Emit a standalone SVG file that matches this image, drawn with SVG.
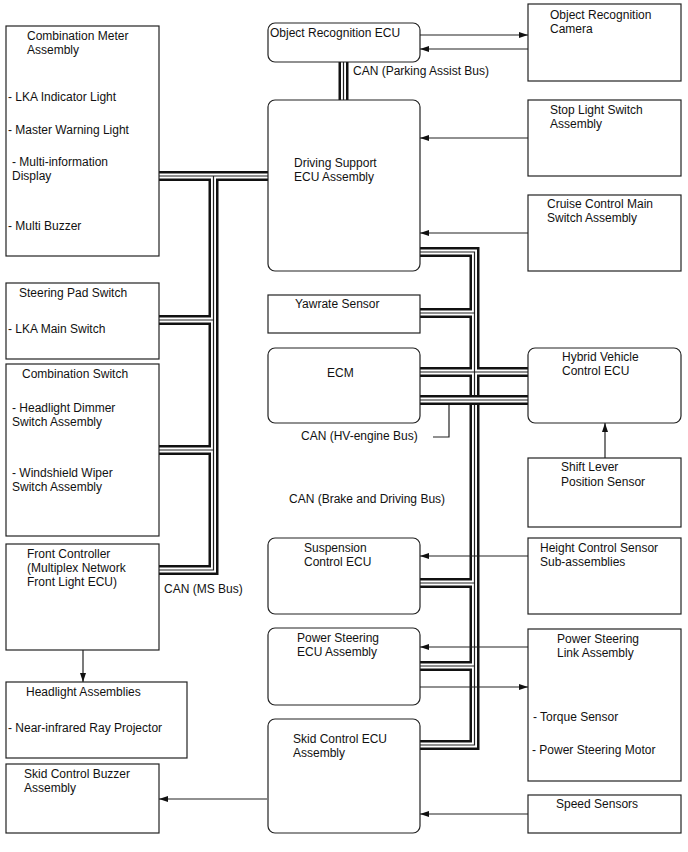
<svg xmlns="http://www.w3.org/2000/svg" width="688" height="852" viewBox="0 0 688 852">
<defs>
<marker id="ah" markerWidth="9" markerHeight="6" refX="9" refY="3" orient="auto" markerUnits="userSpaceOnUse">
<path d="M0,0 L9,3 L0,6 z" fill="#111"/>
</marker>
</defs>
<style>
.box{fill:#fff;stroke:#222;stroke-width:1.2}
text{font-family:"Liberation Sans",Arial,sans-serif;font-size:12px;fill:#111}
.conn{fill:none;stroke:#222;stroke-width:1.2}
.arr{marker-end:url(#ah)}
.bk{fill:none;stroke:#111;stroke-width:10;stroke-linejoin:miter}
.wh{fill:none;stroke:#fff;stroke-width:5;stroke-linejoin:miter}
.md{fill:none;stroke:#222;stroke-width:1.2;stroke-linejoin:miter}
</style>
<rect width="688" height="852" fill="#fff"/>

<g id="buses">
<g class="bk">
<path d="M159,176 H268"/>
<path d="M213.5,176 V570 H159"/>
<path d="M159,320 H213.5"/>
<path d="M159,450 H213.5"/>
<path d="M420,252 H474.5 V745 H420"/>
<path d="M420,313 H474.5"/>
<path d="M420,372 H528"/>
<path d="M420,583 H474.5"/>
<path d="M420,666 H474.5"/>
<path d="M343.5,62 V100"/>
</g>
<g class="wh">
<path d="M159,176 H268"/>
<path d="M213.5,176 V570 H159"/>
<path d="M159,320 H213.5"/>
<path d="M159,450 H213.5"/>
<path d="M420,252 H474.5 V745 H420"/>
<path d="M420,313 H474.5"/>
<path d="M420,372 H528"/>
<path d="M420,583 H474.5"/>
<path d="M420,666 H474.5"/>
<path d="M343.5,62 V100"/>
</g>
<g class="md">
<path d="M159,176 H268"/>
<path d="M213.5,176 V570 H159"/>
<path d="M159,320 H213.5"/>
<path d="M159,450 H213.5"/>
<path d="M420,252 H474.5 V745 H420"/>
<path d="M420,313 H474.5"/>
<path d="M420,372 H528"/>
<path d="M420,583 H474.5"/>
<path d="M420,666 H474.5"/>
<path d="M343.5,62 V100"/>
</g>
<path class="bk" d="M420,400 H528"/>
<path class="wh" d="M420,400 H528"/>
<path class="md" d="M420,400 H528"/>
</g>

<g id="connectors">
<path class="conn arr" d="M420,35 H528"/>
<path class="conn arr" d="M528,49 H420"/>
<path class="conn arr" d="M528,138 H420"/>
<path class="conn arr" d="M528,233 H420"/>
<path class="conn arr" d="M605,458 V423"/>
<path class="conn arr" d="M528,556 H420"/>
<path class="conn arr" d="M528,647 H420"/>
<path class="conn arr" d="M420,687 H528"/>
<path class="conn arr" d="M528,814 H420"/>
<path class="conn arr" d="M267,799 H159"/>
<path class="conn arr" d="M83,650 V682"/>
<path class="conn" d="M433,437 H449 V405"/>
</g>

<g id="bus-labels">
<text x="353" y="75">CAN (Parking Assist Bus)</text>
<text x="301" y="440">CAN (HV-engine Bus)</text>
<text x="289" y="503">CAN (Brake and Driving Bus)</text>
<text x="164" y="593">CAN (MS Bus)</text>
</g>

<g id="combination-meter">
<rect class="box" x="6" y="26" width="153" height="230"/>
<text x="27" y="40">Combination Meter</text>
<text x="27" y="54">Assembly</text>
<text x="8" y="101">- LKA Indicator Light</text>
<text x="8" y="134">- Master Warning Light</text>
<text x="12" y="166">- Multi-information</text>
<text x="12" y="180">Display</text>
<text x="8" y="230">- Multi Buzzer</text>
</g>

<g id="steering-pad-switch">
<rect class="box" x="6" y="283" width="153" height="76"/>
<text x="19" y="297">Steering Pad Switch</text>
<text x="8" y="333">- LKA Main Switch</text>
</g>

<g id="combination-switch">
<rect class="box" x="6" y="364" width="153" height="172"/>
<text x="22" y="378">Combination Switch</text>
<text x="12" y="412">- Headlight Dimmer</text>
<text x="12" y="426">Switch Assembly</text>
<text x="12" y="477">- Windshield Wiper</text>
<text x="12" y="491">Switch Assembly</text>
</g>

<g id="front-controller">
<rect class="box" x="6" y="544" width="153" height="106"/>
<text x="27" y="558">Front Controller</text>
<text x="27" y="572">(Multiplex Network</text>
<text x="27" y="586">Front Light ECU)</text>
</g>

<g id="headlight-assemblies">
<rect class="box" x="6" y="682" width="181" height="76"/>
<text x="26" y="696">Headlight Assemblies</text>
<text x="8" y="732">- Near-infrared Ray Projector</text>
</g>

<g id="skid-control-buzzer">
<rect class="box" x="6" y="764" width="153" height="69"/>
<text x="24" y="778">Skid Control Buzzer</text>
<text x="24" y="792">Assembly</text>
</g>

<g id="object-recognition-ecu">
<rect class="box" x="268" y="23" width="152" height="39" rx="7"/>
<text x="270" y="37">Object Recognition ECU</text>
</g>

<g id="object-recognition-camera">
<rect class="box" x="528" y="4" width="153" height="77"/>
<text x="550" y="19">Object Recognition</text>
<text x="550" y="33">Camera</text>
</g>

<g id="driving-support-ecu">
<rect class="box" x="268" y="100" width="152" height="171" rx="7"/>
<text x="294" y="167">Driving Support</text>
<text x="294" y="181">ECU Assembly</text>
</g>

<g id="stop-light-switch">
<rect class="box" x="528" y="100" width="153" height="76"/>
<text x="550" y="114">Stop Light Switch</text>
<text x="550" y="128">Assembly</text>
</g>

<g id="cruise-control-switch">
<rect class="box" x="528" y="195" width="153" height="76"/>
<text x="547" y="208">Cruise Control Main</text>
<text x="547" y="222">Switch Assembly</text>
</g>

<g id="yawrate-sensor">
<rect class="box" x="268" y="295" width="152" height="38"/>
<text x="295" y="308">Yawrate Sensor</text>
</g>

<g id="ecm">
<rect class="box" x="268" y="348" width="152" height="75" rx="7"/>
<text x="327" y="377">ECM</text>
</g>

<g id="hybrid-vehicle-ecu">
<rect class="box" x="528" y="348" width="153" height="75" rx="7"/>
<text x="562" y="361">Hybrid Vehicle</text>
<text x="562" y="375">Control ECU</text>
</g>

<g id="shift-lever-sensor">
<rect class="box" x="528" y="458" width="153" height="69"/>
<text x="561" y="471">Shift Lever</text>
<text x="561" y="486">Position Sensor</text>
</g>

<g id="suspension-ecu">
<rect class="box" x="268" y="538" width="152" height="76" rx="7"/>
<text x="304" y="552">Suspension</text>
<text x="304" y="566">Control ECU</text>
</g>

<g id="height-control-sensor">
<rect class="box" x="528" y="538" width="153" height="76"/>
<text x="540" y="552">Height Control Sensor</text>
<text x="540" y="566">Sub-assemblies</text>
</g>

<g id="power-steering-ecu">
<rect class="box" x="268" y="628" width="152" height="77" rx="7"/>
<text x="297" y="642">Power Steering</text>
<text x="297" y="656">ECU Assembly</text>
</g>

<g id="power-steering-link">
<rect class="box" x="528" y="629" width="153" height="152"/>
<text x="557" y="643">Power Steering</text>
<text x="557" y="657">Link Assembly</text>
<text x="533" y="721">- Torque Sensor</text>
<text x="532" y="754">- Power Steering Motor</text>
</g>

<g id="skid-control-ecu">
<rect class="box" x="268" y="719" width="152" height="114" rx="7"/>
<text x="293" y="743">Skid Control ECU</text>
<text x="293" y="757">Assembly</text>
</g>

<g id="speed-sensors">
<rect class="box" x="528" y="795" width="153" height="38"/>
<text x="556" y="808">Speed Sensors</text>
</g>
</svg>
